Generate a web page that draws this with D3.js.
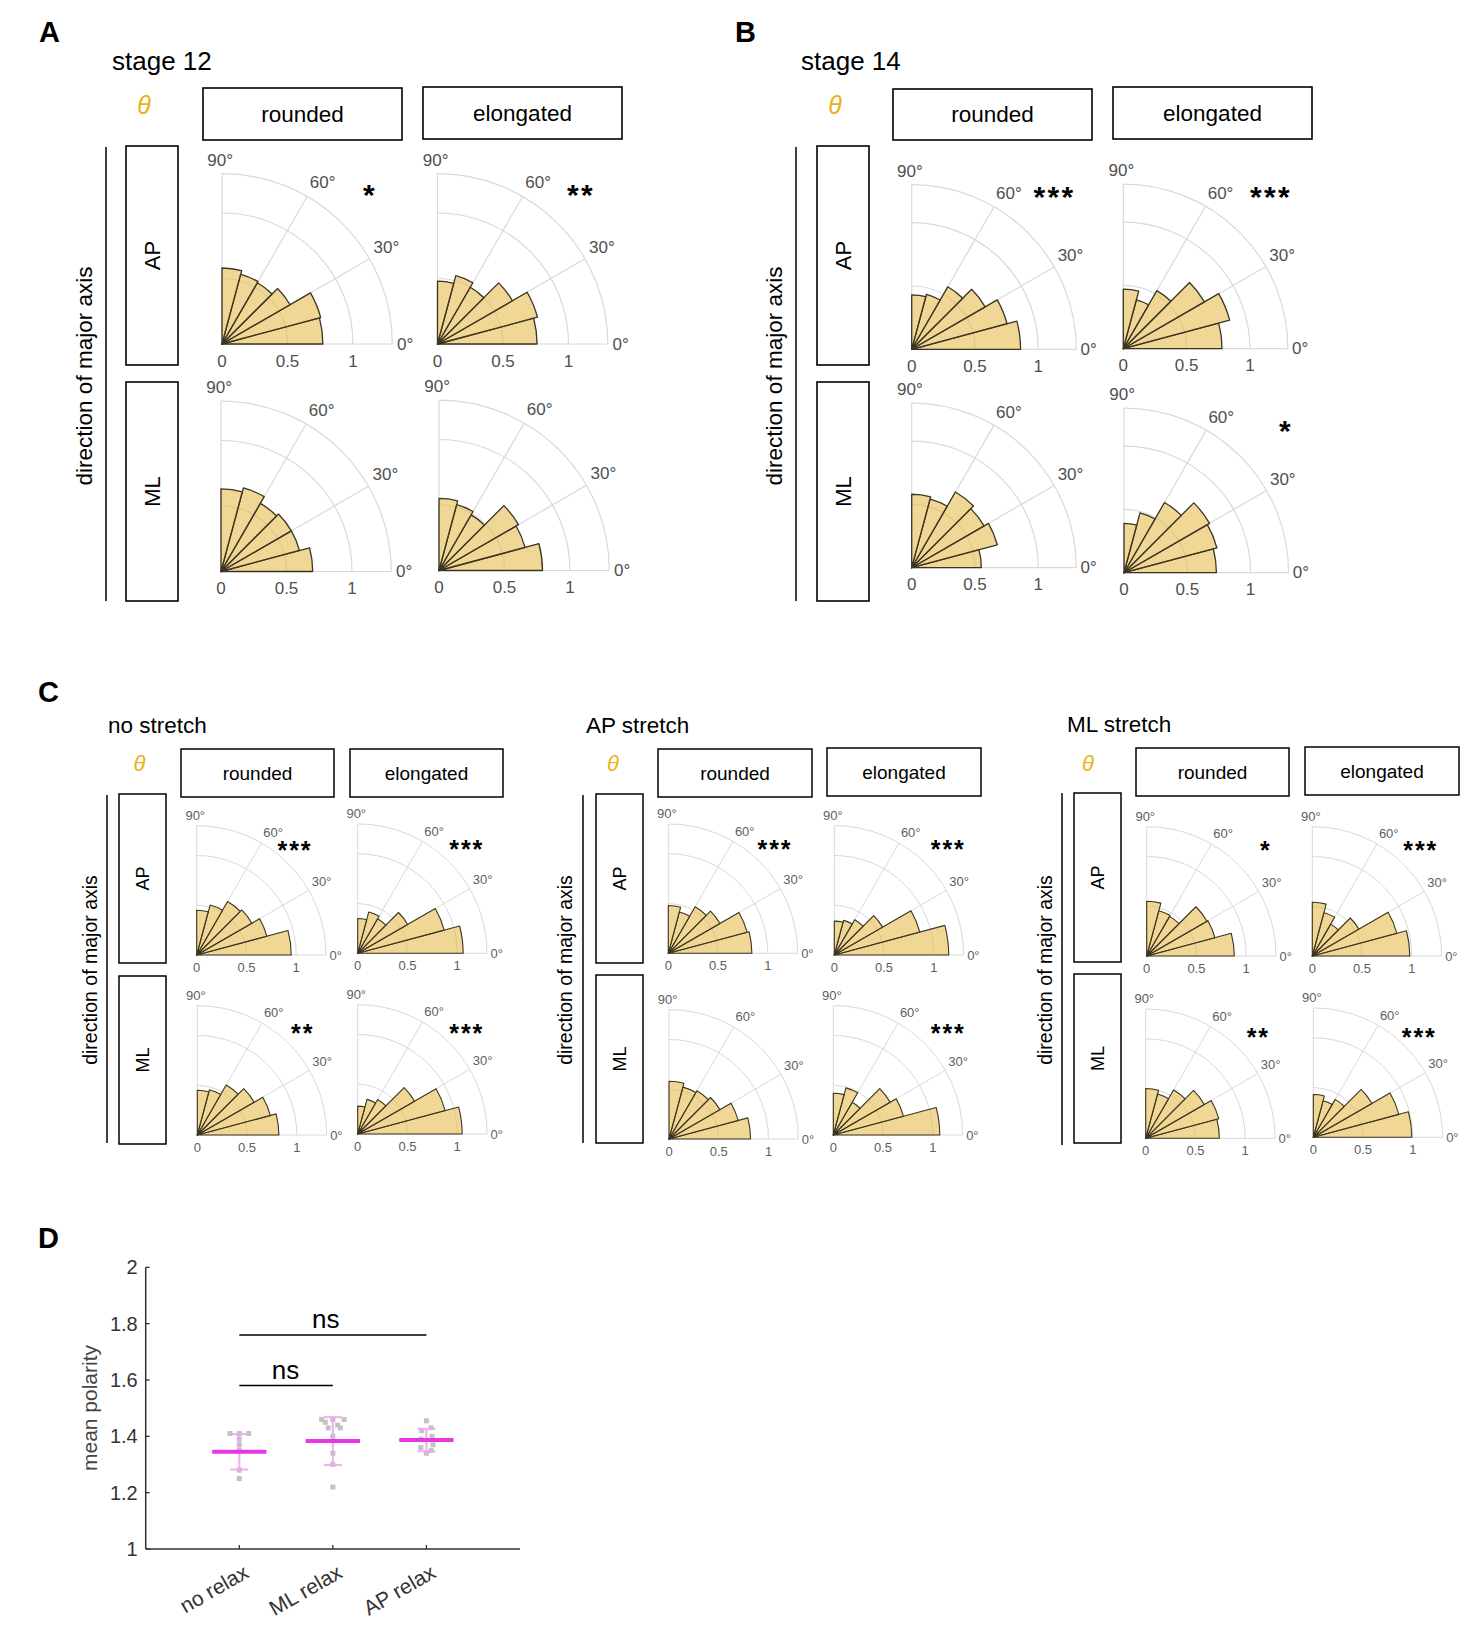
<!DOCTYPE html>
<html><head><meta charset="utf-8">
<script src="https://cdn.jsdelivr.net/npm/d3@7/dist/d3.min.js"></script>
<style>
body{margin:0;background:#fff}
svg{display:block}
text{font-family:"Liberation Sans", Arial, Helvetica, sans-serif}
</style>
</head><body>
<svg id="fig" width="1480" height="1650"></svg>
<script>
// ---------------- DATA ----------------
const binEdges = [0, 15, 30, 45, 60, 75, 90];
const radialTicks = [0, 0.5, 1];
const radialTickLabels = ["0", "0.5", "1"];
const thetaTicks = [0, 30, 60, 90];
const thetaTickLabels = ["0°", "30°", "60°", "90°"];
const rMax = 1.3;
const colHeaders = ["rounded", "elongated"];
const rowHeaders = ["AP", "ML"];

// bin values (0-15°, 15-30°, ..., 75-90°)
const s12_AP_rounded   = [0.77, 0.78, 0.60, 0.54, 0.55, 0.58];
const s12_AP_elongated = [0.76, 0.79, 0.66, 0.50, 0.54, 0.48];
const s12_ML_rounded   = [0.70, 0.62, 0.62, 0.60, 0.66, 0.63];
const s12_ML_elongated = [0.79, 0.68, 0.70, 0.49, 0.52, 0.55];
const s14_AP_rounded   = [0.86, 0.78, 0.67, 0.57, 0.45, 0.43];
const s14_AP_elongated = [0.78, 0.87, 0.74, 0.53, 0.40, 0.47];
const s14_ML_rounded   = [0.55, 0.70, 0.66, 0.69, 0.56, 0.58];
const s14_ML_elongated = [0.73, 0.76, 0.78, 0.64, 0.49, 0.39];
const noS_AP_rounded   = [0.95, 0.73, 0.64, 0.62, 0.52, 0.45];
const noS_AP_elongated = [1.06, 0.90, 0.58, 0.40, 0.43, 0.35];
const noS_ML_rounded   = [0.82, 0.76, 0.66, 0.58, 0.47, 0.45];
const noS_ML_elongated = [1.05, 0.91, 0.66, 0.40, 0.36, 0.28];
const apS_AP_rounded   = [0.84, 0.82, 0.60, 0.54, 0.43, 0.48];
const apS_AP_elongated = [1.15, 0.89, 0.56, 0.41, 0.36, 0.34];
const apS_ML_rounded   = [0.82, 0.72, 0.59, 0.56, 0.54, 0.58];
const apS_ML_elongated = [1.07, 0.73, 0.66, 0.38, 0.49, 0.42];
const mlS_AP_rounded   = [0.88, 0.71, 0.70, 0.46, 0.47, 0.55];
const mlS_AP_elongated = [0.98, 0.88, 0.54, 0.37, 0.45, 0.54];
const mlS_ML_rounded   = [0.74, 0.76, 0.68, 0.56, 0.46, 0.50];
const mlS_ML_elongated = [0.99, 0.89, 0.68, 0.44, 0.38, 0.43];

// significance (AP-rounded, AP-elongated, ML-rounded, ML-elongated)
const sigStage12   = ["*", "**", "", ""];
const sigStage14   = ["***", "***", "", "*"];
const sigNoStretch = ["***", "***", "**", "***"];
const sigAPStretch = ["***", "***", "", "***"];
const sigMLStretch = ["*", "***", "**", "***"];

// panel D
const dCategories = ["no relax", "ML relax", "AP relax"];
const dMeans = [1.345, 1.383, 1.387];
const dSD = [0.063, 0.085, 0.040];
const dPtsNoRelax = [1.41, 1.41, 1.41, 1.39, 1.37, 1.35, 1.28, 1.25];
const dJitNoRelax = [-0.1, 0, 0.1, 0, 0, 0, 0, 0];
const dPtsMLRelax = [1.46, 1.46, 1.46, 1.45, 1.44, 1.43, 1.43, 1.40, 1.34, 1.30, 1.22];
const dJitMLRelax = [-0.12, 0, 0.12, -0.08, 0.05, -0.05, 0.08, 0, 0, 0, 0];
const dPtsAPRelax = [1.455, 1.43, 1.42, 1.40, 1.39, 1.37, 1.36, 1.35, 1.34];
const dJitAPRelax = [0, 0.05, -0.05, 0.06, -0.06, 0.07, -0.06, 0.05, 0];
const dYTicks = [1, 1.2, 1.4, 1.6, 1.8, 2];
const dYTickLabels = ["1", "1.2", "1.4", "1.6", "1.8", "2"];
const dCompFrom = [0, 0];
const dCompTo = [1, 2];
const dCompLabel = ["ns", "ns"];
const dCompY = [1.58, 1.76];

// ---------------- LAYOUT / STYLE ----------------
const svg = d3.select("#fig");
const FILL = "#E8BC4E", FILL_OP = 0.6, EDGE = "#3b3422", GRID = "#d9d9d9";

const big = {titleF:26, thetaF:25, boxF:22.5, rowF:22, rotF:22.5, tickF:17, tickC:"#505050",
  starF:30, starLS:2.3, starDy:0.48, gridW:1.2, edgeW:1.3, rLabOff:17, boxW:1.6};
const small = {titleF:22.5, thetaF:22, boxF:19, rowF:18, rotF:19.5, tickF:13, tickC:"#5e5e5e",
  starF:25, starLS:1.9, starDy:0.55, gridW:1, edgeW:1.1, rLabOff:12, boxW:1.5};

const groups = [
 {letter:"A", lx:39, ly:42, title:"stage 12", tx:112, ty:70, thx:144, thy:114, st:big, r1:131,
  cols:[[203,88,199,52],[423,87,199,52]], rows:[[126,146,52,219],[126,382,52,219]],
  vline:[106,147,601], rot:[84,376], sig:sigStage12,
  plots:[[s12_AP_rounded,222,344,370,191],[s12_AP_elongated,437.5,344,581,191],
         [s12_ML_rounded,221,571.5,0,0],[s12_ML_elongated,439,570.5,0,0]]},
 {letter:"B", lx:735, ly:42, title:"stage 14", tx:801, ty:70, thx:835, thy:114, st:big, r1:126.6,
  cols:[[893,89,199,51],[1113,87,199,52]], rows:[[817,146,52,219],[817,382,52,219]],
  vline:[796,147,601], rot:[774,376], sig:sigStage14,
  plots:[[s14_AP_rounded,911.7,349.3,1054.5,192.5],[s14_AP_elongated,1123.3,348.7,1271,192.5],
         [s14_ML_rounded,911.7,567.7,0,0],[s14_ML_elongated,1124,572.7,1286,427]]},
 {letter:"C", lx:38, ly:702, title:"no stretch", tx:108, ty:733, thx:139.5, thy:771, st:small, r1:99.5,
  cols:[[181,749,153,48],[350,749,153,48]], rows:[[119,794,47,169],[119,976,47,168]],
  vline:[107,795,1143], rot:[90,970], sig:sigNoStretch,
  plots:[[noS_AP_rounded,196.7,955,295,845],[noS_AP_elongated,357.7,953.3,466.7,844],
         [noS_ML_rounded,197.3,1135,302.7,1028],[noS_ML_elongated,357.7,1134,466.7,1028]]},
 {letter:null, title:"AP stretch", tx:586, ty:733, thx:613, thy:771, st:small, r1:99.5,
  cols:[[658,749,154,48],[827,748,154,48]], rows:[[596,794,47,169],[596,975,47,168]],
  vline:[583,795,1143], rot:[565,970], sig:sigAPStretch,
  plots:[[apS_AP_rounded,668.3,953.3,775,844.3],[apS_AP_elongated,834.3,955,948.3,844.3],
         [apS_ML_rounded,669,1139,0,0],[apS_ML_elongated,833.3,1135,948.3,1028.3]]},
 {letter:null, title:"ML stretch", tx:1067, ty:732, thx:1088, thy:771, st:small, r1:99.5,
  cols:[[1136,748,153,48],[1305,747,154,48]], rows:[[1074,793,47,169],[1074,974,47,169]],
  vline:[1062,793,1145], rot:[1045,970], sig:sigMLStretch,
  plots:[[mlS_AP_rounded,1146.7,956,1265.7,845],[mlS_AP_elongated,1312.3,956,1420.7,845],
         [mlS_ML_rounded,1145.7,1138.3,1258.3,1032.7],[mlS_ML_elongated,1313.3,1137.3,1419.3,1032.7]]}
];

function polar(vals, cx, cy, r1, st, sig, sx, sy) {
  const R = r1 * rMax;
  const r = d3.scaleLinear().domain([0, rMax]).range([0, R]);
  const ang = d3.scaleLinear().domain([0, 90]).range([Math.PI / 2, 0]); // d3.arc convention
  const rad = d => d * Math.PI / 180;
  const g = svg.append("g").attr("transform", `translate(${cx},${cy})`);
  [0.5, 1, rMax].forEach(v => {
    const p = d3.path(); p.arc(0, 0, r(v), -Math.PI / 2, 0);
    g.append("path").attr("d", p.toString()).attr("fill", "none")
      .attr("stroke", GRID).attr("stroke-width", st.gridW);
  });
  thetaTicks.forEach(t => {
    g.append("line").attr("x1", 0).attr("y1", 0)
      .attr("x2", R * Math.cos(rad(t))).attr("y2", -R * Math.sin(rad(t)))
      .attr("stroke", GRID).attr("stroke-width", st.gridW);
  });
  const bins = vals.map((v, i) => ({v, t0: binEdges[i], t1: binEdges[i + 1]}));
  const arc = d3.arc().innerRadius(0).outerRadius(d => r(d.v))
    .startAngle(d => ang(d.t1)).endAngle(d => ang(d.t0));
  g.selectAll("path.w").data(bins).join("path").attr("class", "w")
    .attr("d", arc).attr("fill", FILL).attr("fill-opacity", FILL_OP)
    .attr("stroke", EDGE).attr("stroke-width", st.edgeW).attr("stroke-linejoin", "round");
  const labPos = {0: [0, 1.075], 30: [30.5, 1.12], 60: [58, 1.115], 90: [90.6, 1.08]};
  thetaTicks.forEach((t, i) => {
    const [a, f] = labPos[t];
    g.append("text").attr("x", R * f * Math.cos(rad(a))).attr("y", -R * f * Math.sin(rad(a)))
      .attr("text-anchor", "middle").attr("dominant-baseline", "central")
      .attr("font-size", st.tickF).attr("fill", st.tickC).text(thetaTickLabels[i]);
  });
  radialTicks.forEach((v, i) => {
    g.append("text").attr("x", r(v)).attr("y", st.rLabOff)
      .attr("text-anchor", "middle").attr("dominant-baseline", "central")
      .attr("font-size", st.tickF).attr("fill", st.tickC).text(radialTickLabels[i]);
  });
  if (sig) {
    svg.append("text").attr("x", sx).attr("y", sy + st.starDy * st.starF)
      .attr("text-anchor", "middle").attr("font-size", st.starF).attr("font-weight", "bold")
      .attr("letter-spacing", st.starLS).attr("fill", "#000").text(sig);
  }
}

groups.forEach(G => {
  const st = G.st;
  if (G.letter) svg.append("text").attr("x", G.lx).attr("y", G.ly).attr("font-size", 29)
      .attr("font-weight", "bold").text(G.letter);
  svg.append("text").attr("x", G.tx).attr("y", G.ty).attr("font-size", st.titleF).text(G.title);
  svg.append("text").attr("x", G.thx).attr("y", G.thy).attr("text-anchor", "middle")
    .attr("font-size", st.thetaF).attr("font-style", "italic").attr("fill", "#EDB120").text("θ");
  G.cols.forEach((b, i) => {
    svg.append("rect").attr("x", b[0]).attr("y", b[1]).attr("width", b[2]).attr("height", b[3])
      .attr("fill", "none").attr("stroke", "#000").attr("stroke-width", st.boxW);
    svg.append("text").attr("x", b[0] + b[2] / 2).attr("y", b[1] + b[3] / 2)
      .attr("text-anchor", "middle").attr("dominant-baseline", "central")
      .attr("font-size", st.boxF).text(colHeaders[i]);
  });
  G.rows.forEach((b, i) => {
    svg.append("rect").attr("x", b[0]).attr("y", b[1]).attr("width", b[2]).attr("height", b[3])
      .attr("fill", "none").attr("stroke", "#000").attr("stroke-width", st.boxW);
    svg.append("text").attr("transform", `translate(${b[0] + b[2] / 2},${b[1] + b[3] / 2}) rotate(-90)`)
      .attr("text-anchor", "middle").attr("dominant-baseline", "central")
      .attr("font-size", st.rowF).text(rowHeaders[i]);
  });
  svg.append("line").attr("x1", G.vline[0]).attr("x2", G.vline[0]).attr("y1", G.vline[1]).attr("y2", G.vline[2])
    .attr("stroke", "#000").attr("stroke-width", 1.5);
  svg.append("text").attr("transform", `translate(${G.rot[0]},${G.rot[1]}) rotate(-90)`)
    .attr("text-anchor", "middle").attr("dominant-baseline", "central")
    .attr("font-size", st.rotF).text("direction of major axis");
  G.plots.forEach((p, i) => polar(p[0], p[1], p[2], G.r1, st, G.sig[i], p[3], p[4]));
});

// ---------------- PANEL D ----------------
svg.append("text").attr("x", 38).attr("y", 1248).attr("font-size", 29).attr("font-weight", "bold").text("D");
const xD = d3.scaleLinear().domain([0, 4]).range([145.7, 520]);
const yD = d3.scaleLinear().domain([1, 2]).range([1549, 1267.3]);
const AX = "#333";
const gD = svg.append("g");
gD.append("line").attr("x1", xD(0)).attr("x2", xD(0)).attr("y1", yD(1)).attr("y2", yD(2))
  .attr("stroke", AX).attr("stroke-width", 1.5);
gD.append("line").attr("x1", xD(0)).attr("x2", xD(4)).attr("y1", yD(1)).attr("y2", yD(1))
  .attr("stroke", AX).attr("stroke-width", 1.5);
dYTicks.forEach((v, i) => {
  gD.append("line").attr("x1", xD(0)).attr("x2", xD(0) + 4).attr("y1", yD(v)).attr("y2", yD(v))
    .attr("stroke", AX).attr("stroke-width", 1.3);
  gD.append("text").attr("x", xD(0) - 8).attr("y", yD(v)).attr("text-anchor", "end")
    .attr("dominant-baseline", "central").attr("font-size", 20).attr("fill", "#333").text(dYTickLabels[i]);
});
dCategories.forEach((c, i) => {
  const x = xD(i + 1);
  gD.append("line").attr("x1", x).attr("x2", x).attr("y1", yD(1)).attr("y2", yD(1) - 4)
    .attr("stroke", AX).attr("stroke-width", 1.3);
  gD.append("text").attr("transform", `translate(${x + 7},${yD(1) + 21}) rotate(-30)`)
    .attr("text-anchor", "end").attr("dominant-baseline", "central")
    .attr("font-size", 21).attr("fill", "#333").text(c);
});
gD.append("text").attr("transform", `translate(89.5,1408) rotate(-90)`)
  .attr("text-anchor", "middle").attr("dominant-baseline", "central")
  .attr("font-size", 21).attr("fill", "#444").text("mean polarity");

const dPts = [dPtsNoRelax, dPtsMLRelax, dPtsAPRelax];
const dJit = [dJitNoRelax, dJitMLRelax, dJitAPRelax];
dPts.forEach((arr, gi) => {
  arr.forEach((v, k) => {
    gD.append("rect").attr("x", xD(gi + 1 + dJit[gi][k]) - 2.5).attr("y", yD(v) - 2.5)
      .attr("width", 5).attr("height", 5).attr("fill", "#bdbdbd").attr("fill-opacity", 0.9);
  });
});
dMeans.forEach((m, gi) => {
  const x = xD(gi + 1);
  const PINK = "#eba8eb";
  gD.append("line").attr("x1", x).attr("x2", x).attr("y1", yD(m - dSD[gi])).attr("y2", yD(m + dSD[gi]))
    .attr("stroke", PINK).attr("stroke-width", 2.2).attr("stroke-opacity", 0.85);
  [m - dSD[gi], m + dSD[gi]].forEach(v => {
    gD.append("line").attr("x1", x - 9).attr("x2", x + 9).attr("y1", yD(v)).attr("y2", yD(v))
      .attr("stroke", PINK).attr("stroke-width", 2.2).attr("stroke-opacity", 0.85);
  });
  gD.append("line").attr("x1", xD(gi + 1 - 0.29)).attr("x2", xD(gi + 1 + 0.29)).attr("y1", yD(m)).attr("y2", yD(m))
    .attr("stroke", "#e636e6").attr("stroke-width", 4);
});
dCompLabel.forEach((lab, i) => {
  const x1 = xD(dCompFrom[i] + 1), x2 = xD(dCompTo[i] + 1), y = yD(dCompY[i]);
  gD.append("line").attr("x1", x1).attr("x2", x2).attr("y1", y).attr("y2", y)
    .attr("stroke", "#000").attr("stroke-width", 1.5);
  gD.append("text").attr("x", (x1 + x2) / 2 + (i === 0 ? -0.5 : -7)).attr("y", y - 7)
    .attr("text-anchor", "middle").attr("font-size", 26).attr("fill", "#000").text(lab);
});
</script>
</body></html>
